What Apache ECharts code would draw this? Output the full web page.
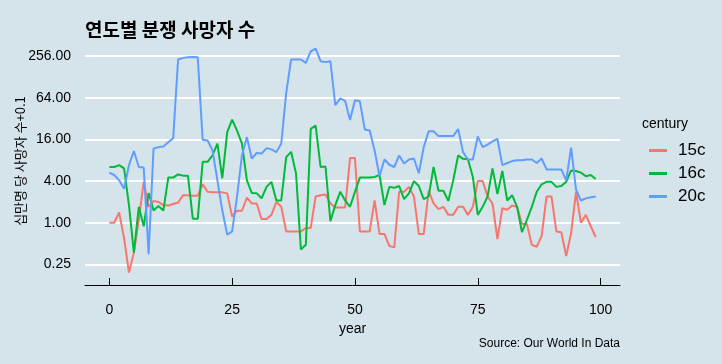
<!DOCTYPE html>
<html><head><meta charset="utf-8">
<script src="https://cdn.jsdelivr.net/npm/echarts@6/dist/echarts.min.js"></script>
<style>html,body{margin:0;padding:0;background:#d5e4eb}#c{width:722px;height:364px}</style>
</head><body><div id="c"></div>
<script>
const years = [0,1,2,3,4,5,6,7,8,9,10,11,12,13,14,15,16,17,18,19,20,21,22,23,24,25,26,27,28,29,30,31,32,33,34,35,36,37,38,39,40,41,42,43,44,45,46,47,48,49,50,51,52,53,54,55,56,57,58,59,60,61,62,63,64,65,66,67,68,69,70,71,72,73,74,75,76,77,78,79,80,81,82,83,84,85,86,87,88,89,90,91,92,93,94,95,96,97,98,99];
const c15 = [1.0,1.0,1.41,0.6,0.19,0.37,1.1,3.9,1.7,2.07,2.0,1.8,1.77,1.87,1.96,2.5,2.5,2.46,2.46,3.6,2.8,2.75,2.75,2.75,2.66,1.23,1.49,1.49,2.3,1.9,1.9,1.13,1.13,1.3,2.0,1.7,0.75,0.75,0.75,0.75,0.84,0.84,2.4,2.5,2.57,1.9,1.66,1.66,1.66,8.6,8.6,0.75,0.75,0.75,2.1,0.69,0.69,0.46,0.44,2.8,2.8,3.3,2.4,0.69,0.69,2.9,1.9,1.57,1.7,1.3,1.3,1.7,1.7,1.3,1.7,4.0,4.0,2.4,1.9,0.58,1.62,1.54,1.77,1.7,0.96,0.96,0.48,0.45,0.64,2.4,2.4,0.75,0.73,0.33,0.71,2.8,1.0,1.3,0.89,0.62];
const c16 = [6.4,6.4,6.8,6.1,1.8,0.37,1.7,0.89,2.7,1.5,1.75,1.5,4.5,4.5,5.0,4.8,4.8,1.14,1.14,7.6,7.6,9.4,13.9,4.4,20.4,31,21.5,13.9,4.1,2.7,2.66,2.26,3.3,3.9,2.1,2.1,8.9,10.6,5.2,0.41,0.48,22.8,25.4,6.4,6.5,1.05,1.8,2.8,2.1,1.7,2.8,4.5,4.5,4.5,4.6,4.9,1.8,3.3,3.2,3.4,2.2,2.66,4.0,3.4,2.2,2.4,6.4,2.9,2.9,2.07,4.1,9.4,8.4,8.3,4.6,1.3,1.7,2.4,6.1,2.6,5.6,2.1,2.5,1.7,0.73,1.1,1.7,2.8,3.6,3.9,3.9,3.3,3.4,3.9,5.7,5.6,5.3,4.7,4.9,4.3];
const c20 = [5.3,4.9,4.1,3.1,6.8,10.9,6.4,6.3,0.35,11.8,12.4,12.7,14.6,16.7,229,242,248,250,248,15.8,15.5,11.1,4.1,1.5,0.67,0.75,2.4,9.4,17.3,8.5,10.2,10.0,12,11.5,10.5,14,75,229,229,229,205,300,330,217,210,217,50,63,58,30.6,59,57,22.3,21.5,11.1,4.7,8.2,6.9,6.4,9.4,7.2,8.2,8.5,5.2,12.4,21,21,17.9,17.9,17.9,17.9,22.7,10.5,8.2,8.2,17.7,12.4,13.5,15,16.3,6.8,7.3,7.8,8.0,8.0,8.2,8.2,7.3,8.5,5.9,5.9,5.9,5.9,4.1,12.2,3.0,2.1,2.25,2.33,2.4];
const xTicks = [0,25,50,75,100];
const yTicks = [0.25,1,4,16,64,256];
const seriesNames = ['15c','16c','20c'];
const seriesValues = [c15, c16, c20];
const colors = ['#F8766D','#00BA38','#619CFF'];

const chart = echarts.init(document.getElementById('c'));
const latin = 'Liberation Sans, Arial, sans-serif';
const kr = 'Noto Sans CJK KR, sans-serif';
chart.setOption({
  animation: false,
  backgroundColor: '#d5e4eb',
  title: {
    text: '연도별 분쟁 사망자 수', left: 85, top: 20, padding: 0,
    textStyle: { fontFamily: kr, fontWeight: 'bold', fontSize: 19, color: '#000' }
  },
  grid: { left: 85, right: 102, top: 36, bottom: 79 },
  legend: {
    data: seriesNames, orient: 'vertical', left: 644, top: 137,
    icon: 'rect', itemWidth: 18, itemHeight: 3, itemGap: 6,
    textStyle: { fontFamily: latin, fontSize: 17, color: '#000', padding: [0,0,0,6] }
  },
  xAxis: {
    type: 'value', min: -4.95, max: 103.95,
    name: 'year', nameLocation: 'middle', nameGap: 32,
    nameTextStyle: { fontFamily: latin, fontSize: 14, color: '#000' },
    axisLine: { show: true, lineStyle: { color: '#000', width: 1 } },
    axisTick: { show: true, inside: true, length: 7, customValues: xTicks, lineStyle: { color: '#000' } },
    axisLabel: { customValues: xTicks, margin: 18, fontFamily: latin, fontSize: 14, color: '#000' },
    splitLine: { show: false }
  },
  yAxis: {
    type: 'log', logBase: 4, min: Math.pow(2, -2.99), max: Math.pow(2, 8.97),
    axisLine: { show: false },
    axisTick: { show: false, customValues: yTicks },
    axisLabel: { customValues: yTicks, margin: 14, fontFamily: latin, fontSize: 14, color: '#000',
      formatter: v => Number(v).toFixed(2) },
    splitLine: { show: true, lineStyle: { color: '#ffffff', width: 2 } }
  },
  graphic: [
    { type: 'text', x: 20, y: 161, rotation: Math.PI / 2,
      style: { text: '십만명 당 사망자 수+0.1', fontFamily: kr, fontSize: 13, fill: '#000', align: 'center', verticalAlign: 'middle' } },
    { type: 'text', left: 642, top: 117,
      style: { text: 'century', fontFamily: latin, fontSize: 14, fill: '#000' } },
    { type: 'text', right: 102, top: 338,
      style: { text: 'Source: Our World In Data', fontFamily: latin, fontSize: 12, fill: '#000' } }
  ],
  series: seriesNames.map((n, k) => ({
    name: n, type: 'line', showSymbol: false, symbol: 'none',
    color: colors[k], lineStyle: { width: 2, color: colors[k] },
    data: years.map((y, i) => [y, seriesValues[k][i]])
  }))
});
</script></body></html>
